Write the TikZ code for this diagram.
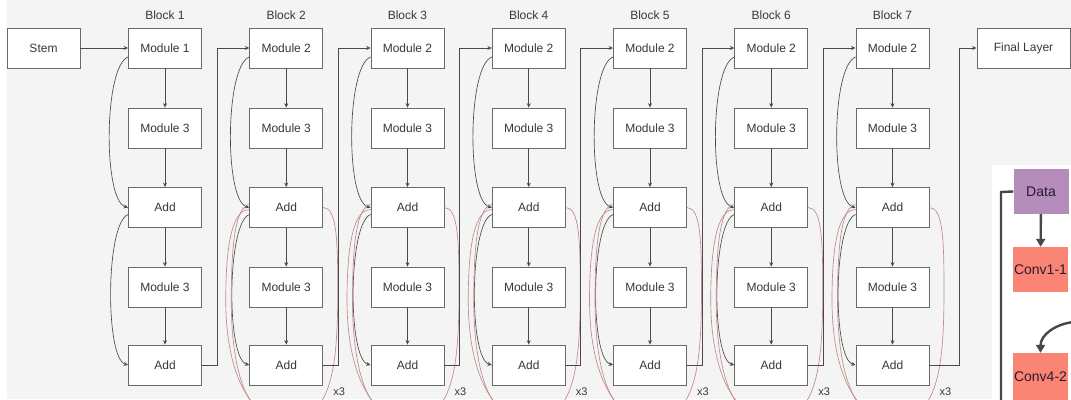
\documentclass[tikz,border=0pt]{standalone}
\usepackage{fontspec}
\setmainfont{Liberation Sans}
\usetikzlibrary{arrows.meta,calc}
\definecolor{bg}{HTML}{F4F4F4}
\definecolor{boxline}{HTML}{6A6A6A}
\definecolor{txt}{HTML}{383838}
\definecolor{linec}{HTML}{4A4A4A}
\definecolor{loopred}{HTML}{C08A86}
\definecolor{datap}{HTML}{B48DBA}
\definecolor{salmonc}{HTML}{FA8575}
\definecolor{darktxt}{HTML}{2B1A30}
\definecolor{thickc}{HTML}{474747}
\begin{document}
\begin{tikzpicture}[x=1pt,y=-1pt,
  box/.style={draw=boxline, fill=white, line width=0.8pt, minimum width=73pt,
    minimum height=40pt, inner sep=0pt, text=txt, font=\fontsize{12}{14}\selectfont},
  lbl/.style={text=txt, inner sep=0pt, font=\fontsize{12}{14}\selectfont},
  xlbl/.style={text=txt, inner sep=0pt, font=\fontsize{11}{13}\selectfont},
  conn/.style={draw=linec, line width=0.75pt, -{Stealth[length=4.5pt,width=4pt]}},
  skip/.style={draw=linec, line width=0.65pt, -{Stealth[length=4.5pt,width=4pt]}},
  redloop/.style={draw=loopred, line width=0.65pt},
  colbox/.style={minimum width=55pt, minimum height=45pt, inner sep=0pt,
    font=\fontsize{14}{16}\selectfont, text=darktxt},
  thickline/.style={draw=thickc, line width=2.4pt},
  thickarrow/.style={draw=thickc, line width=2.4pt, -{Triangle[length=8pt,width=9pt]}}
]
\useasboundingbox (0,0) rectangle (1071,399);
\clip (0,0) rectangle (1071,399);
\fill[white] (0,0) rectangle (1071,399);
\fill[bg] (7,0) rectangle (1071,399);

% stem and final
\node[box] (stem) at (43.5,48) {Stem};
\node[box, minimum width=93pt] (final) at (1023.5,48) {Final Layer};

\foreach \i in {1,...,7}{
  \pgfmathsetmacro{\cx}{165+(\i-1)*121.25}
  \ifnum\i=1
    \node[box] (m1-\i) at (\cx,48) {Module 1};
  \else
    \node[box] (m1-\i) at (\cx,48) {Module 2};
  \fi
  \node[lbl, above=8pt] (bl-\i) at (m1-\i.north) {Block \i};
  \node[box] (m3a-\i) at (\cx,128) {Module 3};
  \node[box] (adda-\i) at (\cx,207.5) {Add};
  \node[box] (m3b-\i) at (\cx,287) {Module 3};
  \node[box] (addb-\i) at (\cx,365) {Add};
  \draw[conn] (m1-\i) -- (m3a-\i);
  \draw[conn] (m3a-\i) -- (adda-\i);
  \draw[conn] (adda-\i) -- (m3b-\i);
  \draw[conn] (m3b-\i) -- (addb-\i);
  \draw[skip] ([yshift=-9pt]m1-\i.west) to[out=200,in=165,distance=26pt] (adda-\i.west);
  \draw[skip] ([yshift=-7pt]adda-\i.west) to[out=200,in=165,distance=24pt] (addb-\i.west);
  \ifnum\i>1
    \draw[redloop] (adda-\i.east)
       .. controls ($(adda-\i)+(50.5,0)$) and ($(adda-\i)+(51.5,32.5)$) .. ($(adda-\i)+(51.5,82.5)$)
       .. controls ($(adda-\i)+(51.5,162.5)$) and ($(adda-\i)+(45,212.5)$) .. ($(adda-\i)+(0,212.5)$)
       .. controls ($(adda-\i)+(-32,212.5)$) and ($(adda-\i)+(-60.5,172.5)$) .. ($(adda-\i)+(-60.5,92.5)$)
       .. controls ($(adda-\i)+(-60.5,22.5)$) and ($(adda-\i)+(-50,2)$) .. ([yshift=-2pt]adda-\i.west);
    \draw[redloop] ([yshift=3pt]adda-\i.west)
       .. controls ($(adda-\i)+(-50,-1)$) and ($(adda-\i)+(-55,32.5)$) .. ($(adda-\i)+(-55,92.5)$)
       .. controls ($(adda-\i)+(-55,162.5)$) and ($(adda-\i)+(-40,207.5)$) .. ($(adda-\i)+(-10,212.5)$);
    \node[xlbl, anchor=west] (x3-\i) at ($(addb-\i.east)+(10,27)$) {x3};
  \fi
}

\draw[conn] (stem) -- (m1-1);
\foreach \i/\j in {1/2,2/3,3/4,4/5,5/6,6/7}{
  \draw[conn] (addb-\i.east) -- ++(15,0) |- (m1-\j.west);
}
\draw[conn] (addb-7.east) -- ++(30,0) |- (final.west);

% inset
\fill[white] (992,165) rectangle (1071,399);
\node[colbox, fill=datap] (data) at (1041,191.5) {Data};
\node[colbox, fill=salmonc] (conv1) at (1040.5,269.5) {Conv1-1};
\node[colbox, fill=salmonc, minimum height=47pt] (conv4) at (1040.5,376.5) {Conv4-2};
\coordinate (lcorner) at (1001,192);
\coordinate (lend) at (1001,402);
\coordinate (cstart) at (1074,322);
\draw[thickline] (data.west) -- (lcorner) -- (lend);
\draw[thickarrow] (data) -- (conv1);
\draw[thickarrow] (cstart) to[out=185,in=90,distance=18pt] (conv4.north);
\end{tikzpicture}
\end{document}
